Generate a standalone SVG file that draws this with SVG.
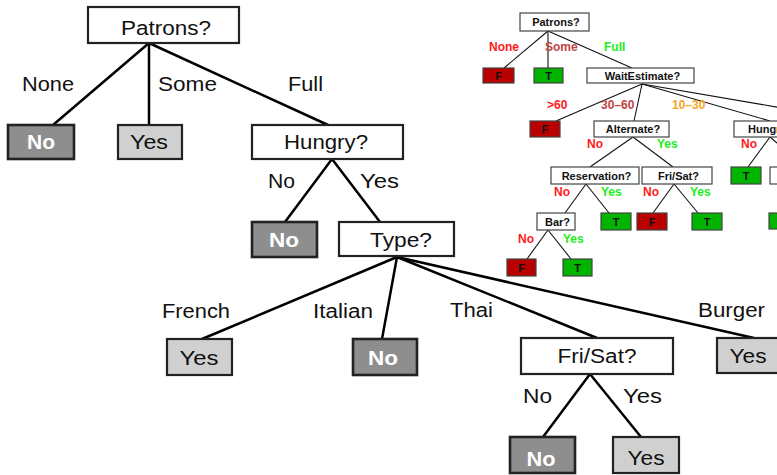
<svg xmlns="http://www.w3.org/2000/svg" width="777" height="475" viewBox="0 0 777 475">
<style>
.bl{stroke:#000;stroke-width:2.5;fill:none;stroke-linecap:round}
.sl{stroke:#111;stroke-width:1.1;fill:none}
.bq{fill:#fff;stroke:#222;stroke-width:2.2}
.bn{fill:#8e8e8e;stroke:#222;stroke-width:2.6}
.by{fill:#d0d0d0;stroke:#222;stroke-width:2.2}
.bt{font-family:"Liberation Sans",Arial,sans-serif;font-size:20px;fill:#111}
.bw{font-family:"Liberation Sans",Arial,sans-serif;font-size:20px;font-weight:bold;fill:#fff}
.mid{text-anchor:middle}
.sq{fill:#fff;stroke:#444;stroke-width:1.2}
.sf{fill:#b80000;stroke:#444;stroke-width:1.2}
.stt{fill:#00b400;stroke:#444;stroke-width:1.2}
.st{font-family:"Liberation Sans",Arial,sans-serif;font-size:11px;font-weight:bold;fill:#111}
.lb{font-family:"Liberation Sans",Arial,sans-serif;font-size:12px;font-weight:bold}
.red{fill:#ff1a1a}.brn{fill:#c04444}.grn{fill:#22ee22}.org{fill:#f5a623}
</style>
<g id="connectors">
<line class="bl" x1="149" y1="43" x2="53" y2="125"/>
<line class="bl" x1="149" y1="43" x2="149" y2="125"/>
<line class="bl" x1="149" y1="43" x2="328" y2="125"/>
<line class="bl" x1="332" y1="159" x2="285" y2="222"/>
<line class="bl" x1="332" y1="159" x2="380" y2="222"/>
<line class="bl" x1="397" y1="257" x2="202" y2="339"/>
<line class="bl" x1="397" y1="257" x2="382" y2="339"/>
<line class="bl" x1="397" y1="257" x2="597" y2="338"/>
<line class="bl" x1="397" y1="257" x2="754" y2="338"/>
<line class="bl" x1="590" y1="374" x2="543" y2="437"/>
<line class="bl" x1="590" y1="374" x2="641" y2="437"/>
<line class="sl" x1="548" y1="31" x2="504" y2="68"/>
<line class="sl" x1="548" y1="31" x2="548" y2="68"/>
<line class="sl" x1="548" y1="31" x2="632" y2="68"/>
<line class="sl" x1="642" y1="84" x2="556" y2="121"/>
<line class="sl" x1="642" y1="84" x2="634" y2="121"/>
<line class="sl" x1="642" y1="84" x2="770" y2="121"/>
<line class="sl" x1="642" y1="84" x2="800" y2="111"/>
<line class="sl" x1="633" y1="137" x2="590" y2="167"/>
<line class="sl" x1="633" y1="137" x2="673" y2="167"/>
<line class="sl" x1="770" y1="137" x2="748" y2="167"/>
<line class="sl" x1="770" y1="137" x2="805" y2="167"/>
<line class="sl" x1="586" y1="184" x2="565" y2="213"/>
<line class="sl" x1="586" y1="184" x2="609" y2="213"/>
<line class="sl" x1="674" y1="184" x2="653" y2="213"/>
<line class="sl" x1="674" y1="184" x2="698" y2="213"/>
<line class="sl" x1="548" y1="230" x2="527" y2="259"/>
<line class="sl" x1="548" y1="230" x2="571" y2="259"/>
</g>
<g id="big-labels">
<text class="bt" x="22" y="91" textLength="52" lengthAdjust="spacingAndGlyphs">None</text>
<text class="bt" x="158" y="91" textLength="59" lengthAdjust="spacingAndGlyphs">Some</text>
<text class="bt" x="288" y="91" textLength="35" lengthAdjust="spacingAndGlyphs">Full</text>
<text class="bt" x="268" y="188" textLength="27" lengthAdjust="spacingAndGlyphs">No</text>
<text class="bt" x="360" y="188" textLength="39" lengthAdjust="spacingAndGlyphs">Yes</text>
<text class="bt" x="162" y="318" textLength="68" lengthAdjust="spacingAndGlyphs">French</text>
<text class="bt" x="313" y="318" textLength="60" lengthAdjust="spacingAndGlyphs">Italian</text>
<text class="bt" x="450" y="317" textLength="43" lengthAdjust="spacingAndGlyphs">Thai</text>
<text class="bt" x="698" y="317" textLength="67" lengthAdjust="spacingAndGlyphs">Burger</text>
<text class="bt" x="523" y="403" textLength="29" lengthAdjust="spacingAndGlyphs">No</text>
<text class="bt" x="623" y="403" textLength="39" lengthAdjust="spacingAndGlyphs">Yes</text>
</g>
<g id="b-patrons"><rect class="bq" x="88" y="7" width="151" height="36"/><text class="bt mid" x="166" y="35" textLength="90" lengthAdjust="spacingAndGlyphs">Patrons?</text></g>
<g id="b-none-no"><rect class="bn" x="8" y="125" width="66" height="34"/><text class="bw mid" x="41" y="149" textLength="28" lengthAdjust="spacingAndGlyphs">No</text></g>
<g id="b-some-yes"><rect class="by" x="118" y="125" width="64" height="34"/><text class="bt mid" x="149" y="149" textLength="38" lengthAdjust="spacingAndGlyphs">Yes</text></g>
<g id="b-hungry"><rect class="bq" x="252" y="125" width="151" height="34"/><text class="bt mid" x="326" y="149" textLength="84" lengthAdjust="spacingAndGlyphs">Hungry?</text></g>
<g id="b-hungry-no"><rect class="bn" x="252" y="222" width="65" height="35"/><text class="bw mid" x="284" y="247" textLength="30" lengthAdjust="spacingAndGlyphs">No</text></g>
<g id="b-type"><rect class="bq" x="339" y="222" width="115" height="34"/><text class="bt mid" x="401" y="247" textLength="62" lengthAdjust="spacingAndGlyphs">Type?</text></g>
<g id="b-french-yes"><rect class="by" x="167" y="339" width="65" height="36"/><text class="bt mid" x="199" y="365" textLength="39" lengthAdjust="spacingAndGlyphs">Yes</text></g>
<g id="b-italian-no"><rect class="bn" x="353" y="339" width="64" height="36"/><text class="bw mid" x="383" y="365" textLength="30" lengthAdjust="spacingAndGlyphs">No</text></g>
<g id="b-frisat"><rect class="bq" x="521" y="338" width="152" height="36"/><text class="bt mid" x="597" y="363" textLength="79" lengthAdjust="spacingAndGlyphs">Fri/Sat?</text></g>
<g id="b-burger-yes"><rect class="by" x="717" y="338" width="70" height="35"/><text class="bt mid" x="748" y="363" textLength="37" lengthAdjust="spacingAndGlyphs">Yes</text></g>
<g id="b-fs-no"><rect class="bn" x="510" y="437" width="65" height="36"/><text class="bw mid" x="541" y="466" textLength="29" lengthAdjust="spacingAndGlyphs">No</text></g>
<g id="b-fs-yes"><rect class="by" x="613" y="437" width="66" height="36"/><text class="bt mid" x="646" y="465" textLength="37" lengthAdjust="spacingAndGlyphs">Yes</text></g>
<g id="small-labels">
<text class="lb red" x="489" y="51">None</text>
<text class="lb brn" x="545" y="51">Some</text>
<text class="lb grn" x="604" y="51">Full</text>
<text class="lb red" x="547" y="109">&gt;60</text>
<text class="lb brn" x="601" y="109">30–60</text>
<text class="lb org" x="672" y="109">10–30</text>
<text class="lb red" x="587" y="148">No</text>
<text class="lb grn" x="657" y="148">Yes</text>
<text class="lb red" x="741" y="148">No</text>
<text class="lb red" x="554" y="196">No</text>
<text class="lb grn" x="601" y="196">Yes</text>
<text class="lb red" x="643" y="196">No</text>
<text class="lb grn" x="690" y="196">Yes</text>
<text class="lb red" x="518" y="243">No</text>
<text class="lb grn" x="563" y="243">Yes</text>
</g>
<g id="s-patrons"><rect class="sq" x="520" y="13" width="69" height="18"/><text class="st mid" x="556" y="26">Patrons?</text></g>
<g id="s-f1"><rect class="sf" x="483" y="68" width="31" height="15"/><text class="st mid" x="498.5" y="80">F</text></g>
<g id="s-t1"><rect class="stt" x="534" y="68" width="29" height="15"/><text class="st mid" x="548.5" y="80">T</text></g>
<g id="s-wait"><rect class="sq" x="587" y="68" width="107" height="15"/><text class="st mid" x="642.5" y="79.5">WaitEstimate?</text></g>
<g id="s-f2"><rect class="sf" x="530" y="121" width="30" height="16"/><text class="st mid" x="545" y="133">F</text></g>
<g id="s-alt"><rect class="sq" x="594" y="121" width="75" height="16"/><text class="st mid" x="633" y="133">Alternate?</text></g>
<g id="s-hungry"><rect class="sq" x="734" y="121" width="80" height="16"/><text class="st" x="748" y="133">Hungry?</text></g>
<g id="s-res"><rect class="sq" x="551" y="167" width="88" height="17"/><text class="st mid" x="596.5" y="179.5">Reservation?</text></g>
<g id="s-frisat"><rect class="sq" x="642" y="167" width="70" height="17"/><text class="st mid" x="678.5" y="179.5">Fri/Sat?</text></g>
<g id="s-t2"><rect class="stt" x="731" y="167" width="30" height="17"/><text class="st mid" x="746" y="179.5">T</text></g>
<g id="s-q-edge"><rect class="sq" x="770" y="167" width="50" height="17"/></g>
<g id="s-bar"><rect class="sq" x="537" y="213" width="38" height="17"/><text class="st mid" x="557.5" y="225.5">Bar?</text></g>
<g id="s-t3"><rect class="stt" x="601" y="213" width="30" height="17"/><text class="st mid" x="616" y="225.5">T</text></g>
<g id="s-f3"><rect class="sf" x="637" y="213" width="30" height="17"/><text class="st mid" x="652" y="225.5">F</text></g>
<g id="s-t4"><rect class="stt" x="692" y="213" width="30" height="17"/><text class="st mid" x="707" y="225.5">T</text></g>
<g id="s-t-edge"><rect class="stt" x="769" y="213" width="30" height="16"/></g>
<g id="s-f4"><rect class="sf" x="507" y="259" width="29" height="17"/><text class="st mid" x="521.5" y="271.5">F</text></g>
<g id="s-t5"><rect class="stt" x="563" y="259" width="29" height="17"/><text class="st mid" x="577.5" y="271.5">T</text></g>
</svg>
